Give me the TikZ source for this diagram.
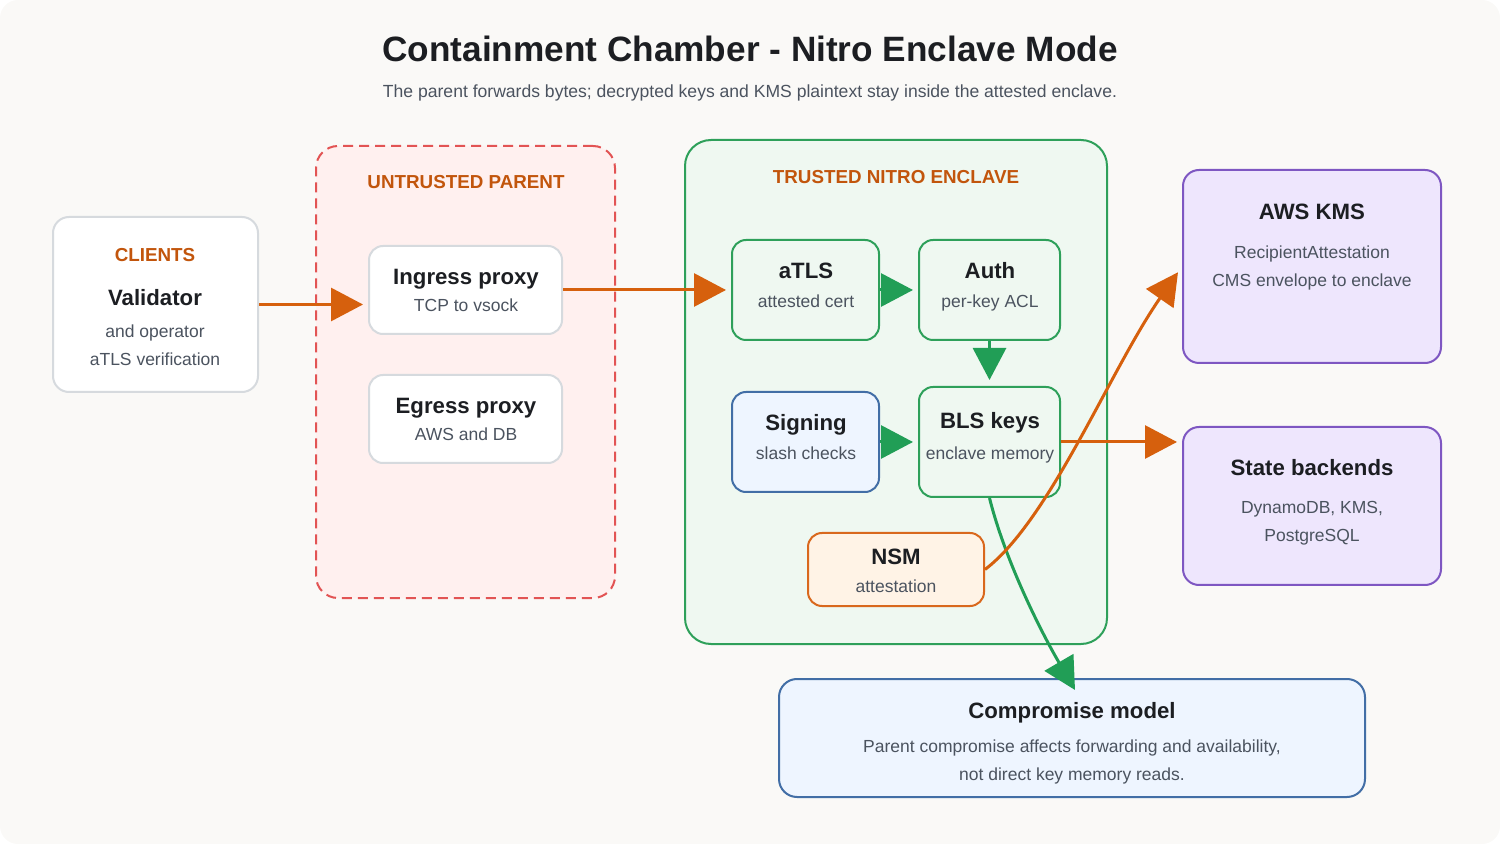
\documentclass[tikz,border=0pt]{standalone}
\usepackage{fontspec}
\setmainfont{Liberation Sans}
\usepackage{xcolor}
\usetikzlibrary{arrows.meta}
\definecolor{pagebg}{RGB}{250,249,247}
\definecolor{inkdark}{RGB}{28,30,34}
\definecolor{inkgray}{RGB}{75,83,95}
\definecolor{lblorange}{RGB}{194,85,12}
\definecolor{arrorange}{RGB}{214,96,13}
\definecolor{arrgreen}{RGB}{33,158,86}
\definecolor{boxgray}{RGB}{214,218,222}
\definecolor{parentred}{RGB}{226,84,84}
\definecolor{parentfill}{RGB}{255,240,239}
\definecolor{enclfill}{RGB}{239,248,241}
\definecolor{enclgreen}{RGB}{46,160,90}
\definecolor{sigblue}{RGB}{66,110,166}
\definecolor{sigfill}{RGB}{238,245,255}
\definecolor{nsmorange}{RGB}{217,104,29}
\definecolor{nsmfill}{RGB}{255,243,230}
\definecolor{extpurple}{RGB}{126,87,194}
\definecolor{extfill}{RGB}{238,230,253}

\begin{document}
\begin{tikzpicture}[x=0.5pt, y=-0.5pt,
  box/.style={draw=boxgray, fill=white, rounded corners=7pt, line width=1pt, inner sep=0pt},
  inbox/.style={draw=enclgreen, fill=enclfill, rounded corners=7pt, line width=1pt, inner sep=0pt},
  extbox/.style={draw=extpurple, fill=extfill, rounded corners=8pt, line width=1pt, inner sep=0pt},
  ttl/.style={font=\bfseries\fontsize{11.1}{13}\selectfont, text=inkdark, anchor=base, yshift=-4.3pt, inner sep=0pt},
  sub/.style={font=\fontsize{8.75}{10}\selectfont, text=inkgray, anchor=base, yshift=-3.3pt, inner sep=0pt},
  lbl/.style={font=\bfseries\fontsize{9.4}{11}\selectfont, text=lblorange, anchor=base, yshift=-3.6pt, inner sep=0pt},
  oarr/.style={draw=arrorange, line width=1.5pt, -{Triangle[length=16pt,width=16.5pt]}},
  garr/.style={draw=arrgreen, line width=1.5pt, -{Triangle[length=16pt,width=16.5pt]}}
]

\useasboundingbox (0,0) rectangle (1500,844);
\fill[pagebg, rounded corners=9pt] (0,0) rectangle (1500,844);

\node[font=\bfseries\fontsize{17.6}{20}\selectfont, text=inkdark, anchor=base, yshift=-6.3pt] (title) at (750,49) {Containment Chamber - Nitro Enclave Mode};
\node[sub, font=\fontsize{8.78}{10}\selectfont] (subtitle) at (750,91) {The parent forwards bytes; decrypted keys and KMS plaintext stay inside the attested enclave.};

% clients
\node[box, rounded corners=8pt, minimum width=102.5pt, minimum height=87.5pt] (clients) at (155.5,304.5) {};
\node[lbl] (clients-l) at (155,254) {CLIENTS};
\node[ttl] (clients-t) at (155,297) {Validator};
\node[sub] (clients-s1) at (155,331) {and operator};
\node[sub] (clients-s2) at (155,359) {aTLS verification};

% untrusted parent
\node[draw=parentred, fill=parentfill, dash pattern=on 5pt off 3pt, line width=1pt, rounded corners=11pt, minimum width=149.5pt, minimum height=226pt] (parent) at (465.5,372) {};
\node[lbl] (parent-l) at (466,181) {UNTRUSTED PARENT};
\node[box, minimum width=96.5pt, minimum height=44pt] (ingress) at (465.5,290) {};
\node[ttl] (ingress-t) at (466,276) {Ingress proxy};
\node[sub] (ingress-s) at (466,305) {TCP to vsock};
\node[box, minimum width=96.5pt, minimum height=44pt] (egress) at (465.5,419) {};
\node[ttl] (egress-t) at (466,405) {Egress proxy};
\node[sub] (egress-s) at (466,434) {AWS and DB};

% trusted enclave
\node[draw=enclgreen, fill=enclfill, line width=1pt, rounded corners=13pt, minimum width=211pt, minimum height=252pt] (enclave) at (896,392) {};
\node[lbl] (enclave-l) at (896,176) {TRUSTED NITRO ENCLAVE};
\node[inbox, minimum width=73.5pt, minimum height=50pt] (atls) at (805.5,290) {};
\node[ttl] (atls-t) at (806,270) {aTLS};
\node[sub] (atls-s) at (806,301) {attested cert};
\node[inbox, minimum width=70.5pt, minimum height=50pt] (auth) at (989.5,290) {};
\node[ttl] (auth-t) at (990,270) {Auth};
\node[sub] (auth-s) at (990,301) {per-key ACL};
\node[inbox, draw=sigblue, fill=sigfill, minimum width=73.5pt, minimum height=50pt] (signing) at (805.5,442) {};
\node[ttl] (signing-t) at (806,422) {Signing};
\node[sub] (signing-s) at (806,453) {slash checks};
\node[inbox, minimum width=70.5pt, minimum height=55pt] (bls) at (989.5,442) {};
\node[ttl] (bls-t) at (990,420) {BLS keys};
\node[sub] (bls-s) at (990,453) {enclave memory};
\node[inbox, draw=nsmorange, fill=nsmfill, minimum width=88pt, minimum height=36.5pt] (nsm) at (896,569.5) {};
\node[ttl] (nsm-t) at (896,556) {NSM};
\node[sub] (nsm-s) at (896,586) {attestation};

% external services
\node[extbox, minimum width=129pt, minimum height=96.5pt] (kms) at (1312,266.5) {};
\node[ttl] (kms-t) at (1312,211) {AWS KMS};
\node[sub] (kms-s1) at (1312,252) {RecipientAttestation};
\node[sub] (kms-s2) at (1312,280) {CMS envelope to enclave};
\node[extbox, minimum width=129pt, minimum height=79pt] (state) at (1312,506) {};
\node[ttl] (state-t) at (1312,467) {State backends};
\node[sub] (state-s1) at (1312,507) {DynamoDB, KMS,};
\node[sub] (state-s2) at (1312,535) {PostgreSQL};

% compromise model
\node[box, draw=sigblue, fill=sigfill, rounded corners=9pt, minimum width=293pt, minimum height=59pt] (cm) at (1072,738) {};
\node[ttl] (cm-t) at (1072,710) {Compromise model};
\node[sub] (cm-s1) at (1072,746) {Parent compromise affects forwarding and availability,};
\node[sub] (cm-s2) at (1072,774) {not direct key memory reads.};

\coordinate (cmtip) at (1075,690);

\draw[oarr, shorten >=2.5pt] (clients.east) -- (clients.east -| ingress.west);
\draw[oarr, shorten >=2.5pt] (ingress.east) -- (atls.west);
\draw[garr, shorten >=2.5pt] (atls.east) -- (auth.west);
\draw[garr, shorten >=3pt] (auth.south) -- (bls.north);
\draw[garr, shorten >=2.5pt] (signing.east) -- (bls.west);
\draw[oarr, shorten >=2.5pt] (bls.east) -- (bls.east -| state.west);
\draw[garr] (bls.south) .. controls (1005,560) and (1040,630) .. (cmtip);
\draw[oarr, shorten >=3.5pt] (nsm.east) .. controls (1050,520) and (1110,370) .. (kms.west);

\end{tikzpicture}
\end{document}
